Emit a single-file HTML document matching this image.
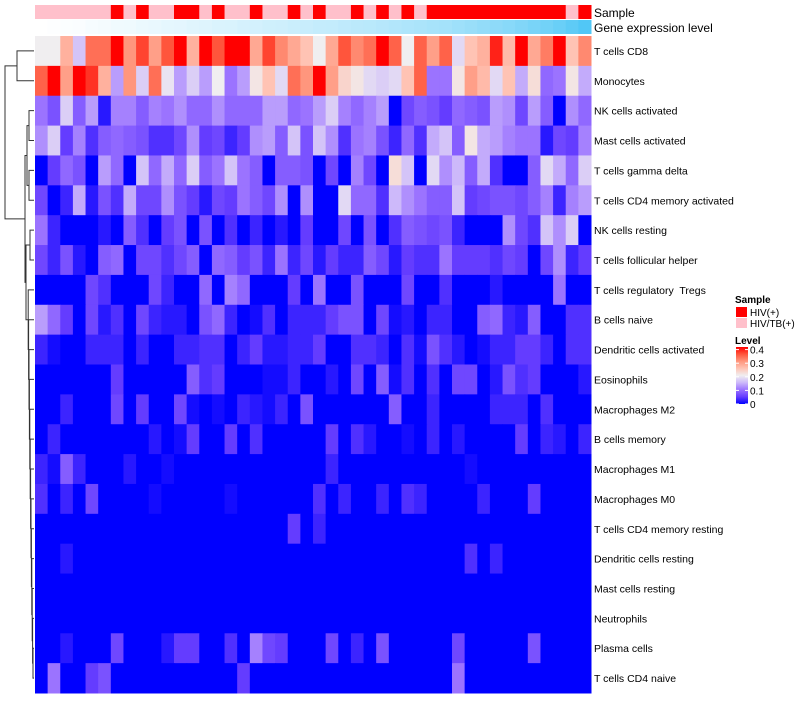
<!DOCTYPE html>
<html><head><meta charset="utf-8"><style>
body{margin:0;background:#fff;font-family:"Liberation Sans",sans-serif}
svg text{font-family:"Liberation Sans",sans-serif;white-space:pre}
</style></head><body>
<svg id="c" width="800" height="700" xmlns="http://www.w3.org/2000/svg"></svg>
<script>
const rows=["T cells CD8","Monocytes","NK cells activated","Mast cells activated","T cells gamma delta","T cells CD4 memory activated","NK cells resting","T cells follicular helper","T cells regulatory  Tregs","B cells naive","Dendritic cells activated","Eosinophils","Macrophages M2","B cells memory","Macrophages M1","Macrophages M0","T cells CD4 memory resting","Dendritic cells resting","Mast cells resting","Neutrophils","Plasma cells","T cells CD4 naive"];
const sampleGroup="PPPPPPRPRPPRRPRPPRPPRPRPPRPRPRPRRRRRRRRRRRPR".split("");
const geneLevel=[0,1,2,3,5,6,8,9,11,12,14,15,17,18,20,21,23,24,26,27,29,30,32,33,35,37,38,40,42,44,46,48,50,53,56,59,62,65,69,73,77,82,88,95];
const m=[];
m[0]=[.2,.2,.27,.16,.33,.33,.42,.3,.36,.29,.35,.42,.27,.42,.35,.4,.42,.28,.36,.31,.28,.25,.2,.28,.35,.31,.33,.42,.34,.2,.34,.29,.34,.18,.25,.27,.38,.26,.42,.28,.32,.42,.25,.31];
m[1]=[.34,.42,.29,.42,.37,.27,.13,.3,.17,.33,.19,.13,.17,.13,.2,.1,.13,.21,.25,.18,.33,.3,.42,.29,.23,.21,.18,.17,.18,.25,.34,.1,.1,.21,.29,.26,.18,.25,.14,.22,.09,.1,.21,.14];
m[2]=[.1,.07,.17,.08,.13,.02,.11,.11,.08,.11,.1,.12,.09,.09,.12,.09,.09,.09,.13,.13,.09,.1,.13,.17,.11,.09,.11,.13,0,.06,.08,.07,.05,.09,.08,.07,.13,.12,.06,.13,.08,0,.12,.09];
m[3]=[.12,.17,.05,.11,.04,.08,.09,.08,.07,.04,.04,.06,.12,.05,.06,.03,.05,.12,.13,.08,.16,.07,.16,.12,.04,.1,.11,.07,.03,.09,.04,.14,.16,.08,.21,.14,.13,.11,.1,.1,.02,.06,.05,.11];
m[4]=[0,.05,.09,.07,0,.13,.09,0,.16,.09,.14,.09,.17,.08,.1,.16,.1,.08,0,.08,.08,.07,0,.06,0,.11,.06,0,.22,.16,0,.18,.12,.15,.08,.14,.04,0,0,.08,.18,.14,.09,.17];
m[5]=[.06,0,.03,.14,.02,.07,.04,.14,.06,.06,.12,.07,.05,.02,.06,.05,.1,.08,.06,.12,0,.12,0,0,.18,.09,.09,.04,.15,.12,.1,.08,.08,.16,.05,.06,.07,.07,.06,.08,.11,.03,.11,.13];
m[6]=[.1,.03,0,0,0,.02,0,.08,.04,0,.05,.07,0,.07,0,.04,0,.03,0,.02,0,.05,0,0,.06,0,.07,0,.04,.08,.07,.06,.07,.03,0,0,0,.12,.06,.04,.16,.12,.17,0];
m[7]=[.06,.03,.07,.02,0,.08,.09,0,.06,.06,.04,.06,.08,0,.09,.08,.05,.07,.03,.1,.03,.06,.02,.05,.03,.03,.08,.06,.02,.05,.04,.04,.1,.05,.05,.05,.04,.06,.05,0,.06,.12,.03,.05];
m[8]=[0,0,0,0,.06,.04,0,0,0,.06,.03,0,0,.09,0,.11,.09,0,0,0,.05,0,.1,0,0,.07,0,0,0,.06,0,0,.04,0,0,0,.02,0,0,0,0,.1,0,0];
m[9]=[.13,.09,.05,0,.06,.02,.04,0,.06,.03,.02,.02,0,.07,.09,.03,0,.01,.04,0,.03,.03,.03,.05,.07,.07,0,.06,.01,.02,0,.03,.03,0,0,.08,.09,.03,.02,.08,0,0,.04,.04];
m[10]=[.03,.01,0,0,.03,.03,.03,0,.03,0,0,.03,.03,.04,.04,0,.03,.05,.02,.02,.03,.03,.05,0,0,.04,.04,.03,0,.04,.01,.07,.04,.02,0,.01,.03,.03,.05,.05,.03,0,.04,.04];
m[11]=[0,0,0,0,0,0,.05,0,0,0,0,0,.08,.04,.05,0,0,0,.01,.01,.03,0,0,.02,0,.06,0,.08,.01,.04,0,.04,0,.06,.06,0,.02,.07,.04,.05,0,0,0,.02];
m[12]=[0,0,.03,0,0,0,.06,0,.05,0,0,.06,.01,0,.01,0,.03,.02,.01,.03,0,.07,0,0,0,0,0,0,.08,0,0,.03,0,0,0,0,.03,.03,.03,0,.04,0,0,0];
m[13]=[0,.03,0,0,0,0,0,0,0,.02,0,.01,.05,0,0,.05,0,.04,0,0,0,0,0,.05,0,.04,.02,0,0,.01,0,.03,0,.02,0,0,0,0,.05,0,.03,.02,0,.03];
m[14]=[.03,.01,.08,.03,0,0,0,.02,0,0,.01,0,0,0,0,0,0,0,0,0,0,0,0,.03,0,0,0,0,0,0,0,0,0,0,.01,0,0,0,0,0,0,0,0,0];
m[15]=[.04,0,.03,0,.06,0,0,0,0,.01,0,0,0,0,0,.01,0,0,0,0,0,0,.04,0,.03,0,0,.03,0,.04,.03,0,0,0,0,.03,0,0,0,.05,0,0,0,0];
m[16]=[0,0,0,0,0,0,0,0,0,0,0,0,0,0,0,0,0,0,0,0,.05,0,.03,0,0,0,0,0,0,0,0,0,0,0,0,0,0,0,0,0,0,0,0,0];
m[17]=[0,0,.02,0,0,0,0,0,0,0,0,0,0,0,0,0,0,0,0,0,0,0,0,0,0,0,0,0,0,0,0,0,0,0,.04,0,.03,0,0,0,0,0,0,0];
m[18]=[0,0,0,0,0,0,0,0,0,0,0,0,0,0,0,0,0,0,0,0,0,0,0,0,0,0,0,0,0,0,0,0,0,0,0,0,0,0,0,0,0,0,0,0];
m[19]=[0,0,0,0,0,0,0,0,0,0,0,0,0,0,0,0,0,0,0,0,0,0,0,0,0,0,0,0,0,0,0,0,0,0,0,0,0,0,0,0,0,0,0,0];
m[20]=[0,0,.02,0,0,0,.06,0,0,0,.02,.05,.05,0,0,.04,0,.11,.06,.05,0,0,0,.06,0,.03,0,.07,0,0,0,0,0,.06,0,0,0,0,0,.07,0,0,0,0];
m[21]=[0,.1,0,0,.05,.07,0,0,0,0,0,0,0,0,0,0,.05,0,0,0,0,0,0,0,0,0,0,0,0,0,0,0,0,.1,0,0,0,0,0,0,0,0,0,0];

const NS="http://www.w3.org/2000/svg";
const svg=document.getElementById('c');
const X0=35,X1=591,Y0=36,Y1=693;
const nc=sampleGroup.length,nr=rows.length;
const cw=(X1-X0)/nc,rh=(Y1-Y0)/nr;
const xS=i=>X0+i*cw, yS=j=>Y0+j*rh;
function mk(t,a){const e=document.createElementNS(NS,t);for(const k in a)e.setAttribute(k,a[k]);svg.appendChild(e);return e;}
const stops=[[0,[0,0,255]],[.05,[100,60,255]],[.1,[155,115,255]],[.15,[205,185,250]],[.2,[240,238,240]],[.25,[255,195,180]],[.3,[255,150,125]],[.35,[255,85,60]],[.4,[255,0,0]]];
function col(v){v=Math.max(0,Math.min(.4,v));for(let i=1;i<stops.length;i++){if(v<=stops[i][0]){const a=stops[i-1],b=stops[i],t=(v-a[0])/(b[0]-a[0]);return 'rgb('+a[1].map((c,k)=>Math.round(c+(b[1][k]-c)*t)).join(',')+')';}}return 'rgb(255,0,0)';}
sampleGroup.forEach((g,i)=>{
 const r=mk('rect',{x:xS(i),y:5,width:cw+0.5,height:14,fill:g==='R'?'#ff0000':'#ffc0cb'});
 
 
});
geneLevel.forEach((g,i)=>{
 const t=g/100;
 const r=mk('rect',{x:xS(i),y:20,width:cw+0.5,height:14,fill:`rgb(${Math.round(255-(255-72)*t)},${Math.round(255-(255-196)*t)},${Math.round(255-(255-245)*t)})`});
 
 
});
let t1=mk('text',{x:594,y:17,'font-size':12,fill:'#000'});t1.textContent='Sample';


let t2=mk('text',{x:594,y:32,'font-size':12,fill:'#000'});t2.textContent='Gene expression level';


m.forEach((row,j)=>row.forEach((v,i)=>{
 const r=mk('rect',{x:xS(i),y:yS(j),width:cw+0.5,height:rh+0.5,fill:col(v)});
 
 
}));
rows.forEach((n,j)=>{
 const t=mk('text',{x:594,y:yS(j)+rh/2+4,'font-size':10.5,fill:'#000'});t.textContent=n;
 
 
});
const yc=j=>yS(j)+rh/2;
const g=mk('g',{stroke:'#333','stroke-width':1,fill:'none'});


function link(xa,ya,xb,yb,xm){const p=document.createElementNS(NS,'path');p.setAttribute('d',`M${xa},${ya}H${xm}V${yb}H${xb}`);g.appendChild(p);return (ya+yb)/2;}
const L=34;
let a=link(L,yc(0),L,yc(1),17);
let b1=link(L,yc(2),L,yc(3),29),b2=link(L,yc(4),L,yc(5),29);
let b=link(29,b1,29,b2,27);
let c1=link(L,yc(6),L,yc(7),30);
let lad=link(L,yc(20),L,yc(21),33);let lx=33;
for(let j=19;j>=8;j--){lad=link(L,yc(j),lx,lad,lx-0.4);lx-=0.4;}
let c=link(30,c1,lx,lad,26);
let d=link(27,b,26,c,25);
link(17,a,25,d,5);
let s=mk('text',{x:735,y:303,'font-size':10,'font-weight':'bold'});s.textContent='Sample';

[['#ff0000','HIV(+)',307],['#ffc0cb','HIV/TB(+)',318]].forEach(e=>{
 const r=mk('rect',{x:736,y:e[2],width:11,height:10,fill:e[0]});
 
 const t=mk('text',{x:750,y:e[2]+9,'font-size':10});t.textContent=e[1];
 
});
let lv=mk('text',{x:735,y:344,'font-size':10,'font-weight':'bold'});lv.textContent='Level';

const defs=mk('defs',{});
const gr=document.createElementNS(NS,'linearGradient');gr.setAttribute('id','lg');gr.setAttribute('x1',0);gr.setAttribute('y1',1);gr.setAttribute('x2',0);gr.setAttribute('y2',0);
stops.forEach(st=>{const o=document.createElementNS(NS,'stop');o.setAttribute('offset',st[0]/.4);o.setAttribute('stop-color','rgb('+st[1].join(',')+')');gr.appendChild(o);});
defs.appendChild(gr);
const cb=mk('rect',{x:736,y:347,width:12,height:57,fill:'url(#lg)'});

const levelTicks=['0','0.1','0.2','0.3','0.4'];
levelTicks.forEach((l,k)=>{
 const y=404-k*13.6;
 mk('line',{x1:736,x2:739,y1:y,y2:y,stroke:'#fff'});
 mk('line',{x1:745,x2:748,y1:y,y2:y,stroke:'#fff'});
 const t=mk('text',{x:750,y:y+4,'font-size':10});t.textContent=l;
 
});
</script>
</body></html>
